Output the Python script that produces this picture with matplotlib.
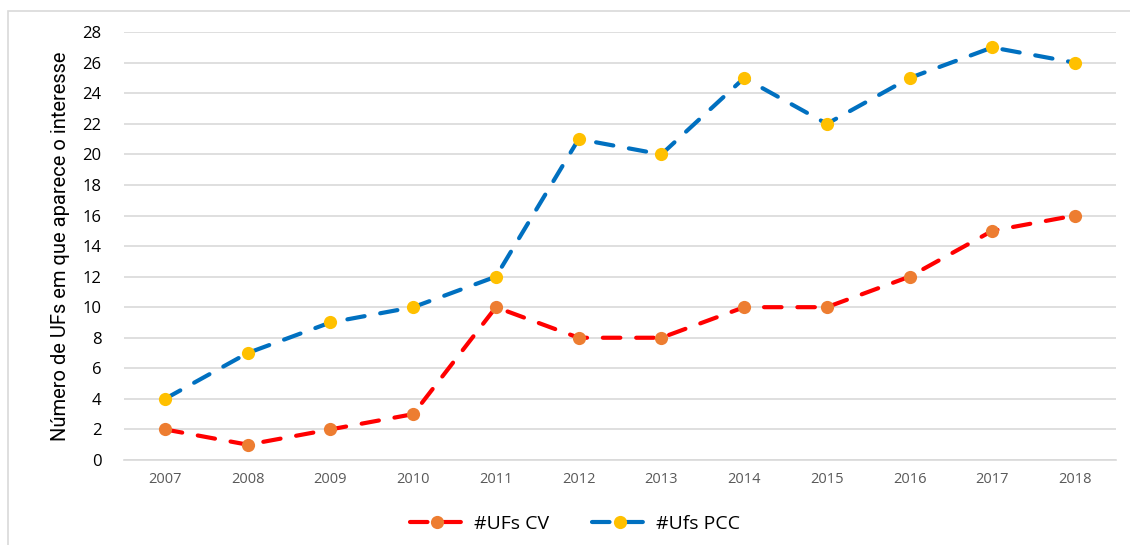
import matplotlib
matplotlib.use("Agg")
import matplotlib.pyplot as plt
from matplotlib.patches import Rectangle

## Data
years = ["2007", "2008", "2009", "2010", "2011", "2012",
         "2013", "2014", "2015", "2016", "2017", "2018"]
ufs_cv = [2, 1, 2, 3, 10, 8, 8, 10, 10, 12, 15, 16]
ufs_pcc = [4, 7, 9, 10, 12, 21, 20, 25, 22, 25, 27, 26]
y_ticks = list(range(0, 29, 2))

plt.rcParams["font.family"] = ["Open Sans", "DejaVu Sans"]

fig = plt.figure(figsize=(11.3, 5.45), dpi=100)
ax = fig.add_axes([0.1094, 0.156, 0.8786, 0.785])

# Light frame around the chart area (only top/left visible in the original).
fig.patches.append(Rectangle((8 / 1130, -0.05), 1.2, 1 - 11 / 545 + 0.05,
                             transform=fig.transFigure, fill=False,
                             edgecolor="#d9d9d9", linewidth=1.2))

x = list(range(len(years)))
style = dict(linewidth=3.0, linestyle=(0, (4.2, 3.8)), dash_capstyle="round",
             marker="o", markersize=9.5, markeredgewidth=0)
ax.plot(x, ufs_cv, color="#ff0000", markerfacecolor="#ed7d31",
        label="#UFs CV", zorder=3, **style)
ax.plot(x, ufs_pcc, color="#0070c0", markerfacecolor="#ffc000",
        label="#Ufs PCC", zorder=3, **style)

# Axes and grid
ax.set_xlim(-0.5, len(years) - 0.5)
ax.set_ylim(0, 28)
ax.set_yticks(y_ticks)
ax.set_xticks(x)
ax.set_xticklabels(years)
ax.grid(axis="y", color="#d9d9d9", linewidth=1.2)
ax.set_axisbelow(True)
for side in ["top", "right", "left"]:
    ax.spines[side].set_visible(False)
ax.spines["bottom"].set_color("#d9d9d9")
ax.spines["bottom"].set_linewidth(1.2)
ax.tick_params(axis="y", length=0, pad=16, labelsize=12, labelcolor="black")
ax.tick_params(axis="x", length=0, pad=9, labelsize=10.5, labelcolor="#595959")

ax.set_ylabel("Número de UFs em que aparece o interesse",
              family=["Liberation Sans Narrow", "Roboto", "DejaVu Sans"],
              fontsize=14.5, labelpad=9)

ax.legend(loc="center", bbox_to_anchor=(0.455, -0.15), ncol=2, frameon=False,
          fontsize=14, handlelength=2.8, columnspacing=2.2, handletextpad=0.5)

fig.savefig("out.png", dpi=100)
